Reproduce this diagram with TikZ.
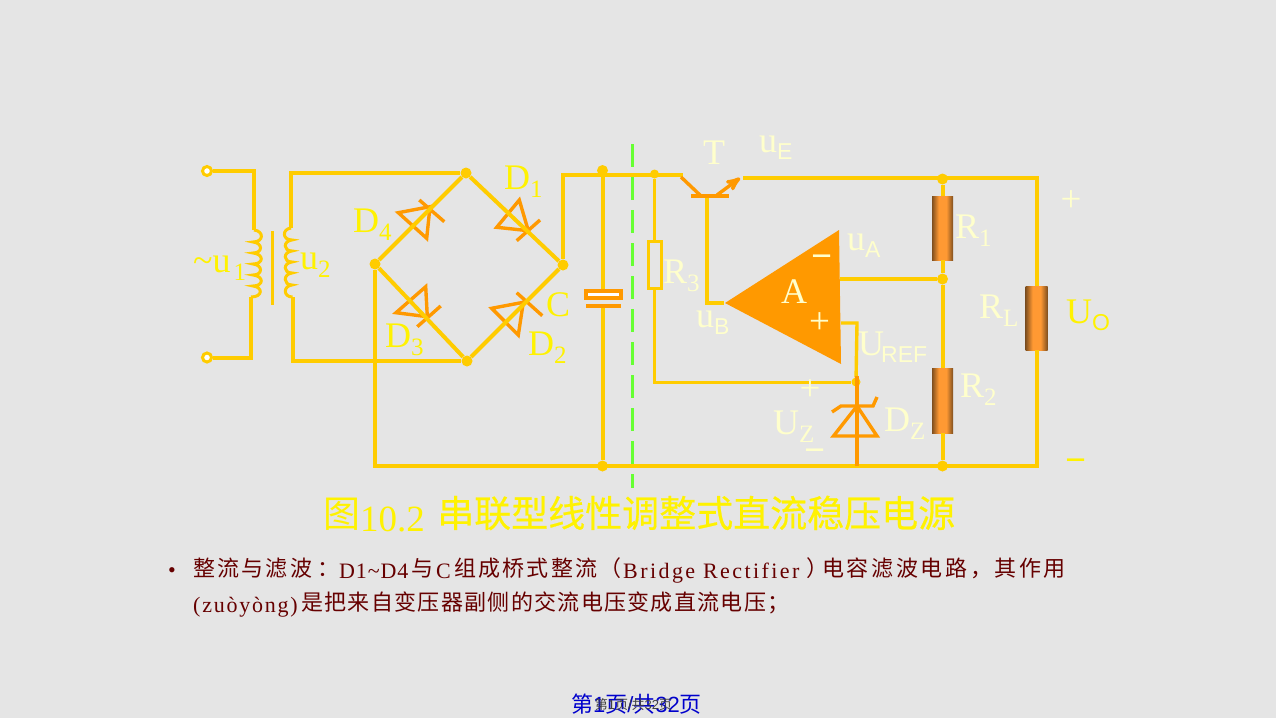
\documentclass[tikz,border=0pt]{standalone}
\usepackage{fontspec}
\setmainfont{Liberation Serif}
\setsansfont{Liberation Sans}
\newfontfamily\cjk{Noto Sans CJK SC}
\newfontfamily\cjktitle[FakeBold=0.5]{Noto Sans CJK SC}
\usetikzlibrary{arrows,positioning,shapes}
\definecolor{wire}{HTML}{FFCC00}
\definecolor{part}{HTML}{FF9900}
\definecolor{pale}{HTML}{FFFFCC}
\definecolor{paper}{HTML}{E5E5E5}
\definecolor{rdark}{HTML}{7F4F1F}
\definecolor{rmid}{HTML}{FF9933}
\definecolor{dashgreen}{HTML}{66FF33}
\definecolor{bodytext}{HTML}{660000}
\pgfdeclarehorizontalshading{resist}{100bp}{color(0bp)=(rdark); color(25bp)=(rdark); color(41bp)=(rmid); color(59bp)=(rmid); color(75bp)=(rdark); color(100bp)=(rdark)}
\newcommand{\fs}[1]{\fontsize{#1}{#1}\selectfont}
\newcommand{\subs}[1]{\raisebox{-8pt}{\fs{25}#1}}
\newcommand{\subf}[1]{\raisebox{-7pt}{\fs{23}\sffamily #1}}
\tikzset{
    %Define style for wires
    pil/.style={draw=wire, line width=4pt, line join=miter},
    thin wire/.style={draw=wire, line width=3pt},
    parts/.style={draw=part, line width=3.4pt},
    jun/.style={circle, fill=wire, inner sep=0pt, minimum size=#1},
    jun/.default=11pt,
    terminal/.style={circle, draw=wire, fill=white, line width=3pt, inner sep=0pt, minimum size=9pt},
    load/.style={rectangle, inner sep=0pt, shading=resist},
    %Define style for labels
    lab/.style={inner sep=0pt, anchor=base west, font=\fs{36}, text=pale},
    labyel/.style={lab, text=yellow},
    sign/.style={lab, anchor=center, font=\fs{37}},
    dash sign/.style={lab, anchor=center, font=\fs{37}\bfseries},
    body/.style={inner sep=0pt, anchor=base west, text=bodytext}
}
\begin{document}
\begin{tikzpicture}[x=1pt,y=-1pt]
    \fill[paper] (0,0) rectangle (1276,718);
    \useasboundingbox (0,0) rectangle (1276,718);
    % diodes
    \draw[parts] (519.3,200) -- (496.7,227.3) -- (528.3,230.7) -- cycle (516.7,240.7) -- (540,220);
    \draw[parts] (398.3,212.7) -- (430,206.7) -- (426.7,238.3) -- cycle (419.3,200) -- (444.3,221.7);
    \draw[parts] (425.7,286.7) -- (396,312.7) -- (427.3,316.7) -- cycle (417.3,326.7) -- (440.7,306);
    \draw[parts] (491.7,308.3) -- (523.3,302.3) -- (518.3,335) -- cycle (516.7,292.7) -- (542.3,315.7);
    % junctions
    \node[terminal](in1) at (207,171){};
    \node[terminal](in2) at (207,357.5){};
    \node[jun](bt) at (466,173){};
    \node[jun](bl) at (375,264){};
    \node[jun](br) at (563,265){};
    \node[jun](bb) at (467,361){};
    \node[jun](c1) at (602.5,170.5){};
    \node[jun](c2) at (602.5,466){};
    \node[jun=9pt](r3top) at (654.5,174){};
    \node[jun=9pt](zt) at (856,382){};
    \node[jun](e1) at (942.5,179){};
    \node[jun](fb) at (942.5,279){};
    \node[jun](g1) at (942.5,466){};
    % corners
    \coordinate (p1) at (254,171);
    \coordinate (p2) at (254,230);
    \coordinate (p3) at (251,297);
    \coordinate (p4) at (251,357.5);
    \coordinate (s1) at (291,173);
    \coordinate (s2) at (291,228);
    \coordinate (s3) at (292.5,297);
    \coordinate (s4) at (292.5,361);
    \coordinate (o1) at (563,174.5);
    \coordinate (o2) at (683,174.5);
    \coordinate (o3) at (743,178);
    \coordinate (o4) at (1036.5,178);
    \coordinate (o5) at (1036.5,466);
    \coordinate (g0) at (375,466);
    \coordinate (z0) at (857,466);
    % load resistors and R3
    \node[load, minimum width=21pt, minimum height=64pt](R1) at (942.5,228){};
    \node[load, minimum width=21pt, minimum height=65pt](R2) at (942.5,400.5){};
    \node[load, minimum width=22pt, minimum height=64pt](RL) at (1036.5,318){};
    \node[draw=wire, line width=3pt, minimum width=13pt, minimum height=47pt, inner sep=0pt](R3) at (654.5,265){};
    % amplifier
    \node[inner sep=0pt](ampin) at (725,303){};
    \coordinate (ampout) at (839.5,279);
    \coordinate (ampref) at (841,323);
    \fill[part] (725,303) -- (839,230) -- (841,364) -- cycle;
    % wires
    \draw[pil] (in1) -- (p1) -- (p2);
    \draw[pil] (p3) -- (p4) -- (in2);
    \draw[pil] (s2) -- (s1) -- (bt);
    \draw[pil] (s3) -- (s4) -- (bb);
    \draw[pil] (bt) -- (br) -- (bb) -- (bl) -- (bt);
    \draw[pil] (bl) -- (g0) -- (o5) -- (RL);
    \draw[pil] (RL) -- (o4) -- (o3);
    \draw[pil] (br) -- (o1) -- (o2);
    \draw[pil] (c1) -- (602.5,290);
    \draw[pil] (602.5,308) -- (c2);
    \draw[thin wire] (r3top) -- (R3);
    \draw[thin wire] (R3) |- (zt);
    \draw[pil] (e1) -- (R1);
    \draw[pil] (R1) -- (fb) -- (R2);
    \draw[pil] (R2) -- (g1);
    \draw[pil] (ampout) -- (fb);
    \draw[pil, line width=3.4pt] (707,197) -- (707,303) -- (ampin);
    \draw[pil, line width=3.4pt] (ampref) -- (857,323) -- (zt);
    % transformer
    \draw[draw=wire, line width=3pt] (272.5,231) -- (272.5,305);
    \draw[draw=wire, line width=3pt] (p2) .. controls (264,231) and (264,242) .. (253,242)
        .. controls (263,243) and (263,253) .. (253,253)
        .. controls (264,254) and (264,264) .. (253,264)
        .. controls (263,265) and (263,275) .. (253,275)
        .. controls (264,276) and (264,286) .. (253,286)
        .. controls (263,287) and (263,297) .. (p3);
    \draw[draw=wire, line width=3pt] (s2) .. controls (282,229) and (282,240) .. (292,240)
        .. controls (283,241) and (283,251) .. (292,251)
        .. controls (283,252) and (283,262) .. (292,262)
        .. controls (283,263) and (283,273) .. (292,273)
        .. controls (283,274) and (283,285) .. (292,285)
        .. controls (283,286) and (283,297) .. (s3);
    % capacitor
    \draw[parts, fill=white] (586,291) rectangle (621,298);
    \draw[parts, line width=3.5pt] (586,306) -- (621,306);
    % transistor
    \draw[parts] (681,177) -- (701,196);
    \draw[parts, line width=3.5pt] (691,196) -- (729,196);
    \draw[parts, ->, >=stealth'] (717,195) -- (740,178);
    % zener
    \draw[parts, line width=3.5pt] (857,376) -- (z0);
    \draw[parts, line join=miter] (833.5,436) -- (877,436) -- (857,406) -- cycle;
    \draw[parts] (832,412) -- (841,406) -- (873,406) -- (877,397);
    % separation line
    \draw[draw=dashgreen, line width=3pt, dash pattern=on 23pt off 10pt] (632,144) -- (632,488);
    % labels
    \node[labyel](D1) at (504,189){D\subs{1}};
    \node[labyel](D4) at (353,232){D\subs{4}};
    \node[labyel](D3) at (385,347){D\subs{3}};
    \node[labyel](D2) at (528,355){D\subs{2}};
    \node[labyel](Cl) at (546,316){C};
    \node[labyel](u1) at (193,272){\textasciitilde u\hspace{3pt}\subs{1}};
    \node[labyel](u2) at (300,269){u\subs{2}};
    \node[lab](T) at (703,164){T};
    \node[lab](uE) at (759,152){u\subf{E}};
    \node[lab](R3l) at (663,283){R\subs{3}};
    \node[lab](uA) at (847,250){u\subf{A}};
    \node[lab](uB) at (696,327){u\subf{B}};
    \node[lab](Al) at (781,303){A};
    \node[dash sign](minus) at (822,261.5){−};
    \node[sign](plus) at (819.5,323){+};
    \node[lab](R1l) at (955,238){R\subs{1}};
    \node[lab](RLl) at (979,318){R\subs{L}};
    \node[lab](R2l) at (960,397){R\subs{2}};
    \node[labyel](Uo) at (1066,323){U\subf{O}};
    \node[lab](Uref) at (858,355){U\hspace{-3pt}\subf{REF}};
    \node[lab](Uz) at (773,434){U\subs{Z}};
    \node[dash sign](uzm) at (815,455.5){−};
    \node[sign](uzp) at (810,390){+};
    \node[lab](Dz) at (884,431){D\subs{Z}};
    \node[sign](op) at (1071,201){+};
    \node[dash sign, text=yellow](om) at (1076,465.5){−};
    % caption
    \node[labyel, font=\fs{37}\cjk](cap1) at (323,527){图};
    \node[labyel, font=\fs{37}](cap2) at (360,531){10.2};
    \node[labyel, font=\fs{37}\cjktitle](cap3) at (437,527){串联型线性调整式直流稳压电源};
    % text
    \node[body, font=\fs{22}](bul) at (168,577){•};
    \node[body, font=\fs{22}\cjk\addfontfeatures{LetterSpace=10}](t1) at (193,576){整流与滤波};
    \node[body, font=\fs{22}\cjk](t1b) at (317,576){：};
    \node[body, font=\fs{22}\addfontfeatures{LetterSpace=4}](t2) at (339,578){D1\textasciitilde D4};
    \node[body, font=\fs{22}\cjk](t3) at (411,576){与};
    \node[body, font=\fs{22}](t4) at (436,578){C};
    \node[body, font=\fs{22}\cjk\addfontfeatures{LetterSpace=10}](t5) at (454,576){组成桥式整流（};
    \node[body, font=\fs{22}\addfontfeatures{LetterSpace=11}](t6) at (623,578){Bridge Rectifier};
    \node[body, font=\fs{22}\cjk](t7) at (806,576){）};
    \node[body, font=\fs{22}\cjk\addfontfeatures{LetterSpace=12}](t7b) at (822,576){电容滤波电路，其作用};
    \node[body, font=\fs{22}\addfontfeatures{LetterSpace=8}](t8) at (193,612){(zuòyòng)};
    \node[body, font=\fs{22}\cjk\addfontfeatures{LetterSpace=6}](t9) at (301,610){是把来自变压器副侧的交流电压变成直流电压；};
    % footer
    \node[inner sep=0pt, text=blue!80!black, font=\fs{22}\sffamily](foot) at (636.5,704){{\cjk 第}1{\cjk 页}/{\cjk 共}32{\cjk 页}};
    \node[inner sep=0pt, text=black!75, font=\fs{13}\sffamily](foot2) at (633.5,705){{\cjk 第}1{\cjk 页}/{\cjk 共}32{\cjk 页}};
\end{tikzpicture}
\end{document}
